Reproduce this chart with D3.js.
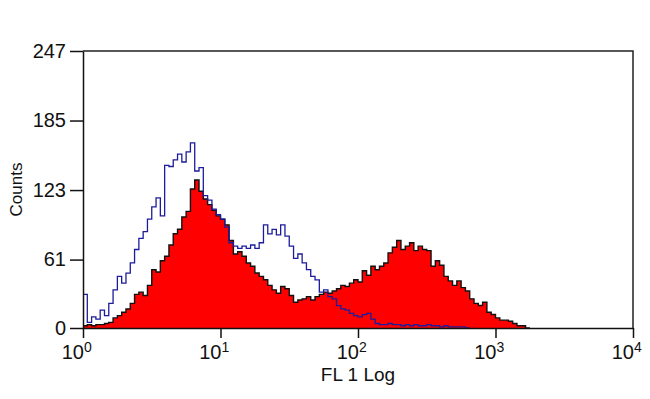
<!DOCTYPE html>
<html>
<head>
<meta charset="utf-8">
<script src="https://cdn.jsdelivr.net/npm/d3@7"></script>
<style>
body { margin: 0; background: #fff; }
svg { display: block; font-family: "Liberation Sans", Arial, sans-serif; }
</style>
</head>
<body>
<div id="chart"></div>
<script>
const width = 650
const height = 399
const margin = {top: 51, bottom: 71, left: 83, right: 17}

// histograma: 32 canales por decada, canal 0 empieza en 10^0
const binsPerDecade = 32
const redCounts = [
  2, 3, 2, 3, 3, 4, 5, 9, 11, 14, 17, 22, 30, 32, 29, 38,
  52, 50, 60, 64, 74, 84, 88, 99, 104, 124, 132, 122, 115, 110, 105, 100,
  97, 92, 78, 66, 68, 64, 58, 55, 49, 46, 43, 38, 34, 31, 37, 35,
  29, 23, 25, 26, 28, 25, 28, 30, 32, 31, 33, 35, 38, 37, 40, 43,
  41, 51, 47, 55, 52, 55, 58, 67, 72, 78, 70, 73, 76, 69, 73, 70,
  69, 55, 60, 56, 46, 42, 38, 42, 36, 33, 26, 22, 20, 23, 14, 12,
  9, 7, 7, 6, 4, 2, 2, 0
]
const blueCounts = [
  30, 5, 10, 8, 16, 11, 22, 34, 46, 40, 49, 58, 70, 80, 86, 97,
  108, 116, 100, 145, 144, 150, 155, 148, 157, 165, 140, 143, 118, 114, 106, 101,
  97, 90, 76, 73, 71, 73, 71, 74, 71, 76, 92, 84, 88, 83, 92, 82,
  73, 62, 66, 58, 52, 46, 43, 32, 34, 28, 26, 20, 17, 16, 13, 11,
  10, 12, 13, 8, 4, 3, 3, 4, 3, 3, 2, 3, 2, 3, 2, 2,
  3, 2, 2, 1, 2, 1, 1, 1, 1, 0
]
const yTicks = [0, 61, 123, 185, 247]
const xTicks = [1, 10, 100, 1000, 10000]
const xExponents = ["0", "1", "2", "3", "4"]

const innerW = width - margin.left - margin.right
const innerH = height - margin.top - margin.bottom

const svg = d3.select("#chart").append("svg").attr("width", width).attr("height", height)
const plot = svg.append("g").attr("transform", `translate(${margin.left}, ${margin.top})`)

const x = d3.scaleLog().domain([1, 10000]).range([0, innerW])
const y = d3.scaleLinear().domain([0, 247]).range([innerH, 0])

function toSteps(counts) {
    const pts = counts.map((c, i) => ({v: Math.pow(10, i / binsPerDecade), c: c}))
    pts.push({v: Math.pow(10, counts.length / binsPerDecade), c: 0})
    return pts
}

const redData = toSteps(redCounts)
const blueData = toSteps(blueCounts)

const area = d3.area()
    .x(d => x(d.v))
    .y0(y(0))
    .y1(d => y(d.c))
    .curve(d3.curveStepAfter)
const line = d3.line()
    .x(d => x(d.v))
    .y(d => y(d.c))
    .curve(d3.curveStepAfter)

plot.append("path").datum(redData).attr("d", area).attr("fill", "#ff0000")
plot.append("path").datum(redData).attr("d", line)
    .attr("fill", "none").attr("stroke", "#111").attr("stroke-width", 1.4)
plot.append("path").datum(blueData).attr("d", line)
    .attr("fill", "none").attr("stroke", "#1c1c9c").attr("stroke-width", 1.3)

// marco superior y derecho
plot.append("path")
    .attr("d", `M0,0H${innerW}V${innerH}`)
    .attr("fill", "none").attr("stroke", "#222").attr("stroke-width", 1.5)

const yAxis = d3.axisLeft(y).tickValues(yTicks).tickSize(13).tickSizeOuter(0).tickPadding(4)
const yAxisGroup = plot.append("g").call(yAxis)
yAxisGroup.attr("font-size", 20).attr("font-family", null)
yAxisGroup.selectAll("path, line").attr("stroke", "#111").attr("stroke-width", 1.5)
yAxisGroup.selectAll("text").attr("fill", "#111")

const xAxis = d3.axisBottom(x).tickValues(xTicks).tickSize(10).tickSizeOuter(0).tickFormat("")
const xAxisGroup = plot.append("g").attr("transform", `translate(0, ${innerH})`).call(xAxis)
xAxisGroup.selectAll("path, line").attr("stroke", "#111").attr("stroke-width", 1.5)

const xLabels = plot.append("g").attr("fill", "#111")
xLabels.selectAll("text.base").data(xTicks).join("text")
    .attr("class", "base")
    .attr("x", d => x(d) + 1)
    .attr("y", innerH + 31)
    .attr("text-anchor", "end")
    .attr("font-size", 20)
    .text("10")
xLabels.selectAll("text.exp").data(xTicks).join("text")
    .attr("class", "exp")
    .attr("x", d => x(d) + 1)
    .attr("y", innerH + 24)
    .attr("font-size", 14)
    .text((d, i) => xExponents[i])

svg.append("text")
    .attr("x", margin.left + innerW / 2)
    .attr("y", 381)
    .attr("text-anchor", "middle")
    .attr("font-size", 19)
    .attr("fill", "#111")
    .text("FL 1 Log")

svg.append("text")
    .attr("transform", `translate(22, ${margin.top + innerH / 2}) rotate(-90)`)
    .attr("text-anchor", "middle")
    .attr("font-size", 17)
    .attr("fill", "#111")
    .text("Counts")
</script>
</body>
</html>
